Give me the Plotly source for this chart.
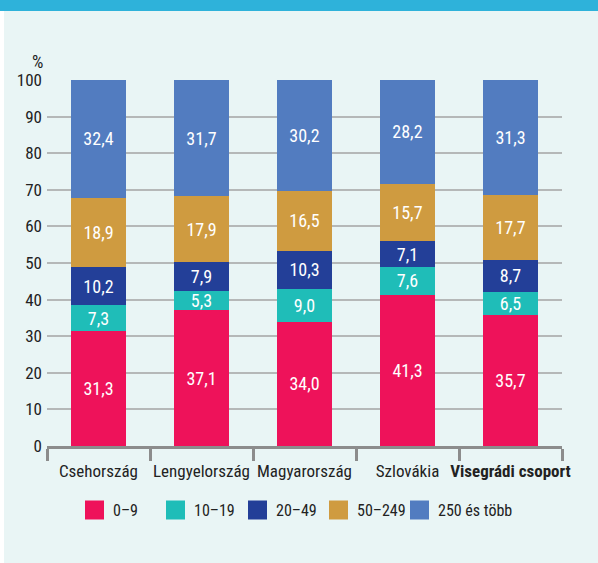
import plotly.graph_objects as go

categories = ["Csehország", "Lengyelország", "Magyarország", "Szlovákia", "Visegrádi csoport"]
tick_labels = ["Csehország", "Lengyelország", "Magyarország", "Szlovákia", "<b>Visegrádi csoport</b>"]
series_names = ["0–9", "10–19", "20–49", "50–249", "250 és több"]
s_0_9 = [31.3, 37.1, 34.0, 41.3, 35.7]
s_10_19 = [7.3, 5.3, 9.0, 7.6, 6.5]
s_20_49 = [10.2, 7.9, 10.3, 7.1, 8.7]
s_50_249 = [18.9, 17.9, 16.5, 15.7, 17.7]
s_250 = [32.4, 31.7, 30.2, 28.2, 31.3]
y_ticks = list(range(0, 101, 10))

colors = ["#EE125A", "#1FBDB8", "#233F98", "#CF9B40", "#527CC0"]
series = [s_0_9, s_10_19, s_20_49, s_50_249, s_250]

FONT = "Roboto Condensed, Liberation Sans Narrow, DejaVu Sans Condensed, Roboto, sans-serif"
W, H = 598, 563
L, R, T, B = 47, 36, 80, 117
PW = W - L - R
PH = H - T - B

def px(x):
    return (x - L) / PW

def py(y):
    return (H - B - y) / PH

fig = go.Figure()
for name, vals, col in zip(series_names, series, colors):
    fig.add_trace(go.Bar(
        x=categories, y=vals, name=name, marker_color=col, marker_line_width=0,
        width=0.53,
        text=[f"{v:.1f}".replace(".", ",") for v in vals],
        textposition="inside", insidetextanchor="middle", textangle=0,
        constraintext="none",
        textfont=dict(color="white", size=18, family=FONT),
        showlegend=False,
    ))

shapes = [
    dict(type="rect", xref="paper", yref="paper", x0=px(0), x1=px(W), y0=py(0), y1=py(11),
         fillcolor="#2EB2DA", line_width=0, layer="below"),
    dict(type="rect", xref="paper", yref="paper", x0=px(0), x1=px(4), y0=py(11), y1=py(H),
         fillcolor="white", line_width=0, layer="below"),
]
annotations = [
    dict(text="%", xref="paper", yref="paper", x=px(37), y=py(61), showarrow=False,
         font=dict(size=18, family=FONT, color="#222"), xanchor="center", yanchor="middle"),
]
leg_x = [85, 166, 248, 329, 410]
leg_y = 510
for lx, name, col in zip(leg_x, series_names, colors):
    shapes.append(dict(type="rect", xref="paper", yref="paper",
                       x0=px(lx), x1=px(lx + 19), y0=py(leg_y - 9.5), y1=py(leg_y + 9.5),
                       fillcolor=col, line_width=0))
    annotations.append(dict(text=name, xref="paper", yref="paper", x=px(lx + 26), y=py(leg_y),
                            showarrow=False, xanchor="left", yanchor="middle",
                            font=dict(size=16, family=FONT, color="#222")))

fig.update_layout(
    barmode="stack",
    width=W, height=H,
    autosize=False,
    margin=dict(l=L, r=R, t=T, b=B, pad=0, autoexpand=False),
    paper_bgcolor="#E9F5F5",
    plot_bgcolor="#E9F5F5",
    font=dict(family=FONT, size=16, color="#222"),
    shapes=shapes,
    annotations=annotations,
)
fig.update_xaxes(
    tickvals=categories, ticktext=tick_labels, tickangle=0, automargin=False,
    showline=True, linecolor="#8C8C8C", linewidth=2.5,
    ticks="outside", tickson="boundaries", ticklen=12, tickwidth=2.5, tickcolor="#8C8C8C",
    ticklabelstandoff=8,
    showgrid=False, tickfont=dict(size=17, family=FONT, color="#222"),
)
fig.update_yaxes(
    range=[0, 100], tickvals=y_ticks, showgrid=True, gridcolor="#B5B8B8", gridwidth=1.5,
    zeroline=False, showline=False, ticks="", ticklabelstandoff=4, automargin=False,
    tickfont=dict(size=17, family=FONT, color="#222"),
)
fig.write_html("out.html", config={"displayModeBar": False},
               post_script="document.body.style.margin='0';document.body.style.overflow='hidden';")
